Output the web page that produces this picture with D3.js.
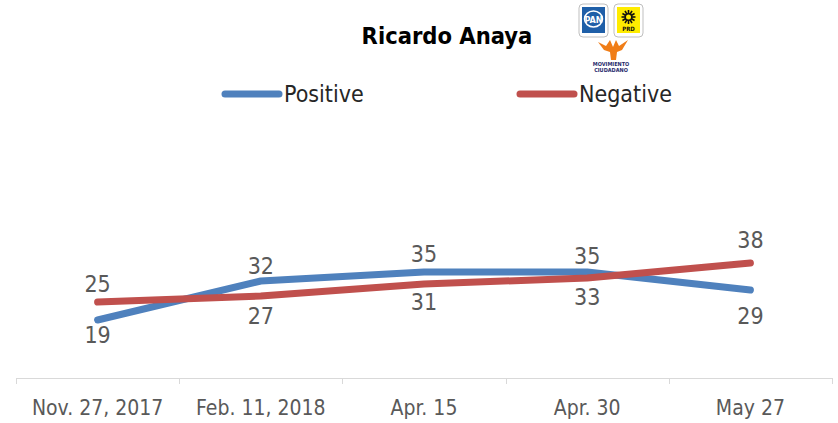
<!DOCTYPE html>
<html>
<head>
<meta charset="utf-8">
<script src="https://cdn.jsdelivr.net/npm/d3@7"></script>
<style>
  html, body { margin: 0; padding: 0; background: #fff; }
  svg { display: block; }
  text { font-family: "DejaVu Sans Condensed", "DejaVu Sans", sans-serif; }
</style>
</head>
<body>
<svg id="chart" width="838" height="423"></svg>
<script>
const title = "Ricardo Anaya";
const categories = ["Nov. 27, 2017", "Feb. 11, 2018", "Apr. 15", "Apr. 30", "May 27"];
const positive = [19, 32, 35, 35, 29];
const negative = [25, 27, 31, 33, 38];
const seriesNames = ["Positive", "Negative"];

// label offsets (pixels relative to each point)
const positiveLabelDy = [23, -7, -10, -8, 34];
const negativeLabelDy = [-10, 28, 26, 27, -15];

const svg = d3.select("#chart");

const x = d3.scaleBand().domain(categories).range([16, 832]);
const y = d3.scaleLinear().domain([0, 40]).range([377, 257]);

const colors = { Positive: "#4F81BD", Negative: "#C0504D" };
const textColor = "#595959";

// axis
const axisG = svg.append("g").attr("transform", "translate(0,378)");
const xAxis = d3.axisBottom(x).tickSize(0).tickPadding(0);
axisG.call(xAxis);
axisG.select(".domain").remove();
axisG.selectAll(".tick text")
  .attr("y", 37).attr("dy", 0)
  .attr("fill", textColor)
  .style("font-size", "21px")
  .style("font-family", '"DejaVu Sans Condensed", "DejaVu Sans", sans-serif');
axisG.append("line")
  .attr("x1", x.range()[0]).attr("x2", x.range()[1])
  .attr("y1", 0.5).attr("y2", 0.5)
  .attr("stroke", "#D9D9D9").attr("stroke-width", 1);
const boundaries = categories.map(c => x(c)).concat([x.range()[1]]);
axisG.selectAll(".bnd").data(boundaries).enter().append("line")
  .attr("x1", d => Math.round(d) + 0.5).attr("x2", d => Math.round(d) + 0.5)
  .attr("y1", 0).attr("y2", 6)
  .attr("stroke", "#D9D9D9").attr("stroke-width", 1);

// lines
const cx = c => x(c) + x.bandwidth() / 2;
const line = d3.line().x((d, i) => cx(categories[i])).y(d => y(d));
const series = [
  { name: "Positive", values: positive, dy: positiveLabelDy },
  { name: "Negative", values: negative, dy: negativeLabelDy }
];
series.forEach(s => {
  svg.append("path")
    .attr("d", line(s.values))
    .attr("fill", "none")
    .attr("stroke", colors[s.name])
    .attr("stroke-width", 7)
    .attr("stroke-linecap", "round")
    .attr("stroke-linejoin", "round");
});
series.forEach(s => {
  svg.selectAll(null).data(s.values).enter().append("text")
    .attr("x", (d, i) => cx(categories[i]))
    .attr("y", (d, i) => y(d) + s.dy[i])
    .attr("text-anchor", "middle")
    .attr("fill", textColor)
    .style("font-size", "23px")
    .text(d => d);
});

// title
svg.append("text")
  .attr("x", 447).attr("y", 44)
  .attr("text-anchor", "middle")
  .attr("fill", "#000")
  .style("font-size", "23.5px")
  .style("font-weight", "bold")
  .text(title);

// legend
const legendX = [222, 517];
seriesNames.forEach((n, i) => {
  const g = svg.append("g").attr("transform", `translate(${legendX[i]},94)`);
  g.append("line").attr("x1", 3).attr("x2", 57).attr("y1", 0).attr("y2", 0)
    .attr("stroke", colors[n]).attr("stroke-width", 7).attr("stroke-linecap", "round");
  g.append("text").attr("x", 62).attr("y", 8)
    .attr("fill", "#262626").style("font-size", "23px").text(n);
});

// party logos
const logo = svg.append("g");
// PAN
logo.append("rect").attr("x", 579).attr("y", 4).attr("width", 29).attr("height", 33).attr("rx", 4)
  .attr("fill", "#fff").attr("stroke", "#bfbfbf").attr("stroke-width", 1);
logo.append("rect").attr("x", 582).attr("y", 7).attr("width", 23).attr("height", 26).attr("fill", "#1f5fa8");
logo.append("ellipse").attr("cx", 593.5).attr("cy", 19).attr("rx", 9).attr("ry", 8)
  .attr("fill", "none").attr("stroke", "#fff").attr("stroke-width", 1.5);
logo.append("text").attr("x", 593.5).attr("y", 22.5).attr("text-anchor", "middle")
  .attr("fill", "#fff").style("font-size", "9px").style("font-weight", "bold").text("PAN");
// PRD
logo.append("rect").attr("x", 614).attr("y", 4).attr("width", 29).attr("height", 33).attr("rx", 4)
  .attr("fill", "#fff").attr("stroke", "#bfbfbf").attr("stroke-width", 1);
logo.append("rect").attr("x", 617).attr("y", 7).attr("width", 23).attr("height", 26).attr("fill", "#ffec00");
const sun = logo.append("g").attr("transform", "translate(628.5,17)");
d3.range(12).forEach(k => {
  const a = k * Math.PI / 6;
  sun.append("line").attr("x1", 0).attr("y1", 0)
    .attr("x2", 7 * Math.cos(a)).attr("y2", 7 * Math.sin(a))
    .attr("stroke", "#111").attr("stroke-width", 1.6);
});
sun.append("circle").attr("r", 4).attr("fill", "#111");
sun.append("circle").attr("r", 2.5).attr("fill", "#ffec00");
logo.append("text").attr("x", 628.5).attr("y", 31).attr("text-anchor", "middle")
  .attr("fill", "#111").style("font-size", "6px").style("font-weight", "bold").text("PRD");
// Movimiento Ciudadano eagle
logo.append("path")
  .attr("d", "M598,42 L606,46 L610,40 L613,47 L616,40 L619,46 L628,40 L622,50 L617,52 L616,60 L611,60 L610,52 L604,50 Z")
  .attr("fill", "#f07d17");
logo.append("text").attr("x", 611).attr("y", 66).attr("text-anchor", "middle")
  .attr("fill", "#1f2a6b").style("font-size", "5.5px").style("font-weight", "bold").text("MOVIMIENTO");
logo.append("text").attr("x", 611).attr("y", 72).attr("text-anchor", "middle")
  .attr("fill", "#1f2a6b").style("font-size", "5.5px").style("font-weight", "bold").text("CIUDADANO");
</script>
</body>
</html>
